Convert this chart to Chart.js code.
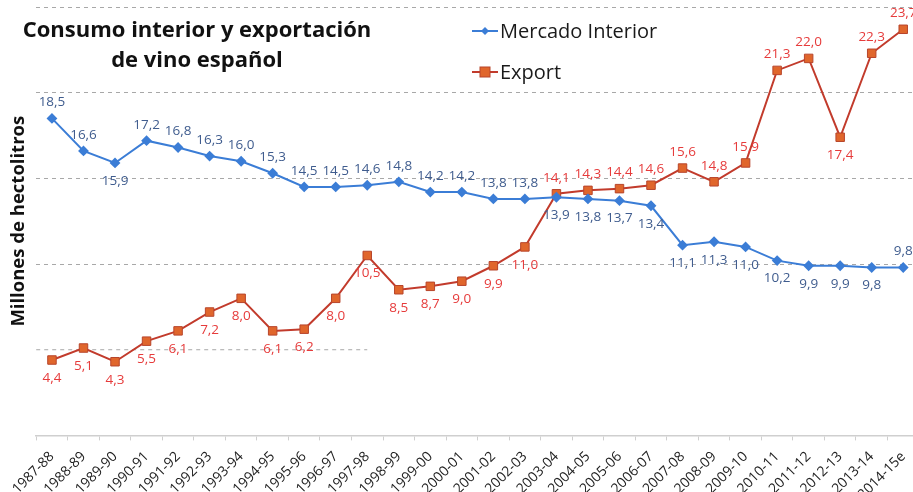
<!DOCTYPE html>
<html>
<head>
<meta charset="utf-8">
<script src="https://cdn.jsdelivr.net/npm/chart.js@4.4.1/dist/chart.umd.min.js"></script>
<style>
html, body { margin: 0; padding: 0; background: #fff; overflow: hidden; }
#wrap { width: 913px; height: 492px; overflow: hidden; position: relative; }
</style>
</head>
<body>
<div id="wrap"><canvas id="chart" width="926" height="511"></canvas></div>
<script>
// campañas
const campaigns = [
    '1987-88', '1988-89', '1989-90', '1990-91', '1991-92', '1992-93', '1993-94',
    '1994-95', '1995-96', '1996-97', '1997-98', '1998-99', '1999-00', '2000-01',
    '2001-02', '2002-03', '2003-04', '2004-05', '2005-06', '2006-07', '2007-08',
    '2008-09', '2009-10', '2010-11', '2011-12', '2012-13', '2013-14', '2014-15e'
];

// millones de hectolitros
const mercadoInterior = [
    18.5, 16.6, 15.9, 17.2, 16.8, 16.3, 16.0, 15.3, 14.5, 14.5, 14.6, 14.8, 14.2, 14.2,
    13.8, 13.8, 13.9, 13.8, 13.7, 13.4, 11.1, 11.3, 11.0, 10.2, 9.9, 9.9, 9.8, 9.8
];
const exportacion = [
    4.4, 5.1, 4.3, 5.5, 6.1, 7.2, 8.0, 6.1, 6.2, 8.0, 10.5, 8.5, 8.7, 9.0,
    9.9, 11.0, 14.1, 14.3, 14.4, 14.6, 15.6, 14.8, 15.9, 21.3, 22.0, 17.4, 22.3, 23.7
];

const yMin = 0;
const yMax = 25;
const yStep = 5;

const FONT = '"Open Sans", sans-serif';

// etiquetas de valores, titulo y leyenda
const drawExtras = {
    id: 'drawExtras',
    beforeDatasetsDraw(chart) {
        // linea de 5 solo hasta 1997-98
        const ctx = chart.ctx;
        const y = chart.scales.y.getPixelForValue(5);
        ctx.save();
        ctx.strokeStyle = '#a8a8a8';
        ctx.lineWidth = 1;
        ctx.setLineDash([4, 4]);
        ctx.beginPath();
        ctx.moveTo(chart.chartArea.left, y);
        ctx.lineTo(chart.scales.x.getPixelForValue(10), y);
        ctx.stroke();
        ctx.restore();
    },
    afterDatasetsDraw(chart) {
        const ctx = chart.ctx;
        chart.data.datasets.forEach((ds, i) => {
            const meta = chart.getDatasetMeta(i);
            ctx.save();
            ctx.font = '13.5px ' + FONT;
            ctx.fillStyle = ds.labelColor;
            ctx.textAlign = 'center';
            ctx.textBaseline = 'middle';
            meta.data.forEach((pt, j) => {
                const below = ds.labelBelow.includes(j);
                const txt = ds.data[j].toFixed(1).replace('.', ',');
                ctx.fillText(txt, pt.x, pt.y + (below ? 18 : -16));
            });
            ctx.restore();
        });
    },
    afterDraw(chart) {
        const ctx = chart.ctx;
        ctx.save();
        // titulo
        ctx.fillStyle = '#111';
        ctx.font = 'bold 22px ' + FONT;
        ctx.textAlign = 'center';
        ctx.textBaseline = 'middle';
        ctx.fillText('Consumo interior y exportación', 197, 31);
        ctx.fillText('de vino español', 197, 61);

        // leyenda
        const ds = chart.data.datasets;
        const rows = [31, 72];
        ds.forEach((d, i) => {
            const y = rows[i];
            ctx.strokeStyle = d.borderColor;
            ctx.lineWidth = 2;
            ctx.beginPath();
            ctx.moveTo(472, y);
            ctx.lineTo(498, y);
            ctx.stroke();
            ctx.fillStyle = d.pointBackgroundColor;
            ctx.strokeStyle = d.pointBorderColor;
            ctx.lineWidth = 1;
            if (d.pointStyle === 'rect') {
                ctx.fillRect(480, y - 5, 10, 10);
                ctx.strokeRect(480, y - 5, 10, 10);
            } else {
                ctx.beginPath();
                ctx.moveTo(485, y - 4);
                ctx.lineTo(489, y);
                ctx.lineTo(485, y + 4);
                ctx.lineTo(481, y);
                ctx.closePath();
                ctx.fill();
            }
            ctx.fillStyle = '#1a1a1a';
            ctx.font = '20px ' + FONT;
            ctx.textAlign = 'left';
            ctx.fillText(d.label, 500, y + 1);
        });
        ctx.restore();
    }
};

new Chart(document.getElementById('chart').getContext('2d'), {
    type: 'line',
    data: {
        labels: campaigns,
        datasets: [{
            label: 'Mercado Interior',
            data: mercadoInterior,
            borderColor: '#3b7dd6',
            borderWidth: 2,
            pointStyle: 'rectRot',
            pointRadius: 4,
            pointBackgroundColor: '#3b7dd6',
            pointBorderColor: '#3b7dd6',
            tension: 0,
            labelColor: '#3f5c8e',
            labelBelow: [2, 16, 17, 18, 19, 20, 21, 22, 23, 24, 25, 26]
        }, {
            label: 'Export',
            data: exportacion,
            borderColor: '#c23b2c',
            borderWidth: 2,
            pointStyle: 'rect',
            pointRadius: 6,
            pointBackgroundColor: '#e0662c',
            pointBorderColor: '#b8452b',
            pointBorderWidth: 1,
            tension: 0,
            labelColor: '#e63b3b',
            labelBelow: [0, 1, 2, 3, 4, 5, 6, 7, 8, 9, 10, 11, 12, 13, 14, 15, 25]
        }]
    },
    plugins: [drawExtras],
    options: {
        responsive: false,
        animation: false,
        layout: {
            padding: { left: 8, right: 0, top: 7, bottom: 0 }
        },
        plugins: {
            legend: { display: false },
            tooltip: { enabled: false }
        },
        scales: {
            x: {
                offset: true,
                grid: {
                    offset: true,
                    drawOnChartArea: false,
                    drawTicks: true,
                    tickLength: 5,
                    color: '#cfcfcf'
                },
                border: { display: true, color: '#cfcfcf', width: 1.5 },
                ticks: {
                    autoSkip: false,
                    minRotation: 45,
                    maxRotation: 45,
                    padding: 8,
                    color: '#222',
                    font: { family: FONT, size: 14 }
                }
            },
            y: {
                min: yMin,
                max: yMax,
                ticks: { display: false, stepSize: yStep },
                grid: {
                    drawTicks: false,
                    color: ctx => (ctx.tick.value === 0 || ctx.tick.value === 5) ? 'rgba(0,0,0,0)' : '#a8a8a8'
                },
                border: { display: false, dash: [4, 4] },
                title: {
                    display: true,
                    text: 'Millones de hectolitros',
                    color: '#111',
                    font: { family: FONT, size: 18.5, weight: 'bold' },
                    padding: { top: 0, bottom: 6 }
                }
            }
        }
    }
});
</script>
</body>
</html>
